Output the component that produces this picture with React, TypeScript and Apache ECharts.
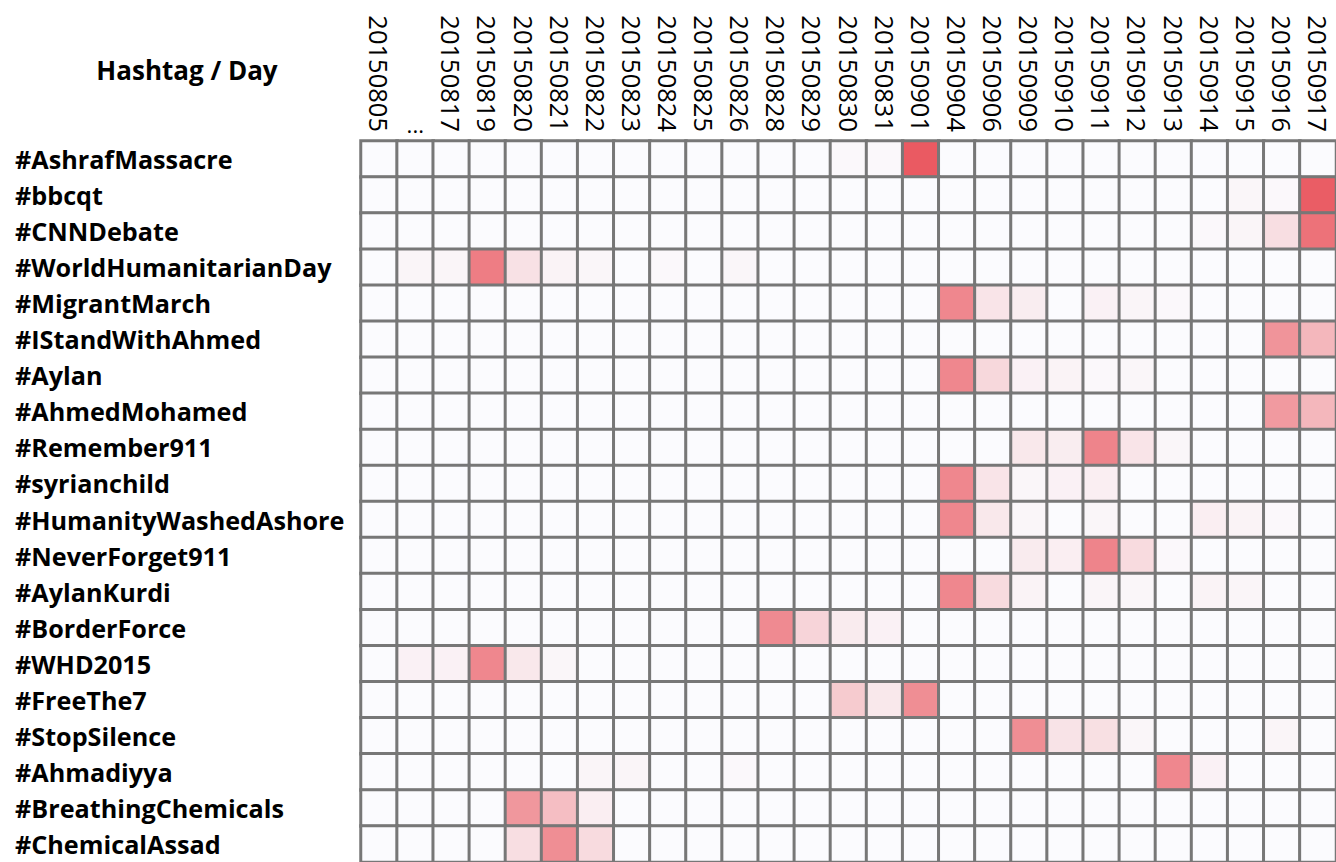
import React, { useEffect, useRef } from "react";
import * as echarts from "echarts";

const days = [
  "20150805", "...", "20150817", "20150819", "20150820", "20150821", "20150822",
  "20150823", "20150824", "20150825", "20150826", "20150828", "20150829",
  "20150830", "20150831", "20150901", "20150904", "20150906", "20150909",
  "20150910", "20150911", "20150912", "20150913", "20150914", "20150915",
  "20150916", "20150917",
];

const hashtags = [
  "#AshrafMassacre", "#bbcqt", "#CNNDebate", "#WorldHumanitarianDay",
  "#MigrantMarch", "#IStandWithAhmed", "#Aylan", "#AhmedMohamed",
  "#Remember911", "#syrianchild", "#HumanityWashedAshore", "#NeverForget911",
  "#AylanKurdi", "#BorderForce", "#WHD2015", "#FreeThe7", "#StopSilence",
  "#Ahmadiyya", "#BreathingChemicals", "#ChemicalAssad",
];

// normalised daily intensity per hashtag (columns follow `days`)
const ashrafMassacre =      [0,0,0,0,0,0,0,0,0,0,0,0,0,0.02,0.02,1.0,0,0,0,0,0,0,0,0,0,0,0];
const bbcqt =               [0,0,0,0,0,0,0,0,0,0,0,0,0,0,0,0,0,0,0,0,0,0,0,0,0.03,0.02,0.98];
const cnnDebate =           [0,0,0,0,0,0,0,0,0,0,0,0,0,0,0,0,0,0,0,0,0,0,0,0.02,0.04,0.18,0.85];
const worldHumanitarianDay =[0,0.04,0.04,0.78,0.16,0.05,0.03,0,0.02,0,0.03,0,0,0,0,0,0,0,0,0,0,0,0,0,0,0,0];
const migrantMarch =        [0,0,0,0,0,0,0,0,0,0,0,0,0,0,0,0,0.72,0.14,0.09,0,0.06,0.04,0.02,0,0,0,0];
const iStandWithAhmed =     [0,0,0,0,0,0,0,0,0,0,0,0,0,0,0,0,0,0,0,0,0,0,0,0,0,0.64,0.42];
const aylan =               [0,0,0,0,0,0,0,0,0,0,0,0,0,0,0,0,0.72,0.22,0.06,0.05,0.02,0.03,0,0,0,0,0];
const ahmedMohamed =        [0,0,0,0,0,0,0,0,0,0,0,0,0,0,0,0,0,0,0,0,0,0,0,0,0,0.6,0.42];
const remember911 =         [0,0,0,0,0,0,0,0,0,0,0,0,0,0,0,0,0,0,0.12,0.09,0.74,0.14,0.03,0,0,0,0];
const syrianChild =         [0,0,0,0,0,0,0,0,0,0,0,0,0,0,0,0,0.72,0.14,0.03,0.06,0.08,0,0,0,0,0,0];
const humanityWashedAshore =[0,0,0,0,0,0,0,0,0,0,0,0,0,0,0,0,0.72,0.12,0.03,0,0.03,0,0,0.08,0.05,0.02,0];
const neverForget911 =      [0,0,0,0,0,0,0,0,0,0,0,0,0,0,0,0,0,0,0.1,0.08,0.74,0.2,0.02,0,0,0,0];
const aylanKurdi =          [0,0,0,0,0,0,0,0,0,0,0,0,0,0,0,0,0.72,0.2,0.05,0,0.04,0.03,0,0.05,0.04,0,0];
const borderForce =         [0,0,0,0,0,0,0,0,0,0,0,0.7,0.24,0.1,0.06,0,0,0,0,0,0,0,0,0,0,0,0];
const whd2015 =             [0,0.06,0.06,0.72,0.12,0.03,0,0,0,0,0,0,0,0,0,0,0,0,0,0,0,0,0,0,0,0,0];
const freeThe7 =            [0,0,0,0,0,0,0,0,0,0,0,0,0,0.3,0.12,0.68,0,0,0,0,0,0,0,0,0,0,0];
const stopSilence =         [0,0,0,0,0,0,0,0,0,0,0,0,0,0,0,0,0,0,0.68,0.15,0.17,0.03,0,0,0,0.04,0];
const ahmadiyya =           [0,0,0,0,0,0,0.04,0.04,0,0,0.02,0,0,0,0,0,0,0,0,0,0,0,0.72,0.06,0,0,0];
const breathingChemicals =  [0,0,0,0,0.62,0.38,0.08,0,0,0,0,0,0,0,0,0,0,0,0,0,0,0,0,0,0,0,0];
const chemicalAssad =       [0,0,0,0,0.18,0.68,0.2,0,0,0,0,0,0,0,0,0,0,0,0,0,0,0,0,0,0,0,0];

const rows = [
  ashrafMassacre, bbcqt, cnnDebate, worldHumanitarianDay, migrantMarch,
  iStandWithAhmed, aylan, ahmedMohamed, remember911, syrianChild,
  humanityWashedAshore, neverForget911, aylanKurdi, borderForce, whd2015,
  freeThe7, stopSilence, ahmadiyya, breathingChemicals, chemicalAssad,
];

export default function App() {
  const ref = useRef<HTMLDivElement>(null);
  useEffect(() => {
    if (!ref.current) return;
    const chart = echarts.init(ref.current, null, { renderer: "svg" });
    const data: number[][] = [];
    rows.forEach((row, r) => row.forEach((v, c) => data.push([c, r, v])));
    const gridLeft = 361;
    const colW = 36.19;
    chart.setOption({
      animation: false,
      backgroundColor: "#ffffff",
      grid: { left: gridLeft, top: 141, width: colW * days.length, height: 36.14 * hashtags.length },
      xAxis: {
        type: "category",
        position: "top",
        data: days,
        axisLine: { show: false },
        axisTick: { show: false },
        splitLine: { show: false },
        axisLabel: {
          interval: 0,
          rotate: 90,
          margin: 9,
          color: "#000",
          fontFamily: "Open Sans",
          fontSize: 25.5,
          formatter: (v: string) => (v === "..." ? "" : v),
        },
      },
      yAxis: {
        type: "category",
        inverse: true,
        data: hashtags,
        axisLine: { show: false },
        axisTick: { show: false },
        splitLine: { show: false },
        axisLabel: {
          interval: 0,
          align: "left",
          margin: 346,
          color: "#000",
          fontFamily: "Open Sans",
          fontWeight: "bold",
          fontSize: 25.2,
        },
      },
      visualMap: {
        show: false,
        min: 0,
        max: 1,
        dimension: 2,
        inRange: { color: ["#FBFBFE", "#EA5A62"] },
      },
      graphic: [
        {
          type: "text",
          x: 187,
          y: 70,
          style: {
            text: "Hashtag / Day",
            fontFamily: "Open Sans",
            fontWeight: "bold",
            fontSize: 26,
            fill: "#000",
            textAlign: "center",
            textVerticalAlign: "middle",
          },
        },
        {
          type: "text",
          x: gridLeft + colW * 1.5,
          y: 124,
          style: {
            text: "...",
            fontFamily: "Open Sans",
            fontSize: 22,
            fill: "#000",
            textAlign: "center",
            textVerticalAlign: "middle",
          },
        },
      ],
      series: [
        {
          type: "heatmap",
          data,
          itemStyle: { borderColor: "#777777", borderWidth: 3 },
          emphasis: { disabled: true },
        },
      ],
    });
    return () => chart.dispose();
  }, []);
  return (
    <div
      ref={ref}
      style={{ position: "absolute", left: 0, top: 0, width: 1336, height: 862 }}
    />
  );
}
